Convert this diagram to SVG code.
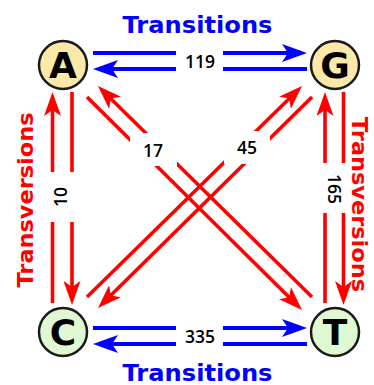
<svg xmlns="http://www.w3.org/2000/svg" width="374" height="385" viewBox="0 0 374 385">
<style>
.blue{stroke:#0000ff;stroke-width:4;fill:none}
.red{stroke:#ff0000;stroke-width:3.6;fill:none}
.ab{marker-end:url(#hb)}
.ar{marker-end:url(#hr)}
.nodeY{fill:#fce8a8;stroke:#1a1a1a;stroke-width:2.5}
.nodeG{fill:#e0f8d2;stroke:#1a1a1a;stroke-width:2.5}
.let{font-family:"DejaVu Sans",Verdana,sans-serif;font-weight:bold;font-size:36px;fill:#000;text-anchor:middle}
.num{font-family:"Open Sans","Liberation Sans",Arial,sans-serif;font-weight:600;font-size:17.5px;fill:#000;text-anchor:middle}
.tb{font-family:"DejaVu Sans",Verdana,sans-serif;font-weight:bold;font-size:23px;fill:#0000ff;text-anchor:middle}
.tr{font-family:"DejaVu Sans",Verdana,sans-serif;font-weight:bold;font-size:22px;fill:#ff0000;text-anchor:middle}
.gap{fill:#fff}
</style>
<defs>
<marker id="hb" markerUnits="userSpaceOnUse" viewBox="0 0 25 18" markerWidth="25" markerHeight="18" refX="15" refY="9" orient="auto">
<path d="M25,9 L0,0 L6,9 L0,18 Z" fill="#0000ff"/>
</marker>
<marker id="hr" markerUnits="userSpaceOnUse" viewBox="0 0 24 17" markerWidth="24" markerHeight="17" refX="14" refY="8.5" orient="auto">
<path d="M24,8.5 L0,0 L6,8.5 L0,17 Z" fill="#ff0000"/>
</marker>
</defs>

<g id="connectors">
<line class="blue ab" x1="93" y1="53" x2="297" y2="53"/>
<line class="blue ab" x1="307" y1="69" x2="103" y2="69"/>
<line class="blue ab" x1="93" y1="328" x2="297" y2="328"/>
<line class="blue ab" x1="307" y1="344" x2="103" y2="344"/>
<line class="red ar" x1="52.5" y1="303" x2="52.5" y2="102"/>
<line class="red ar" x1="72" y1="92" x2="72" y2="295"/>
<line class="red ar" x1="325" y1="303" x2="325" y2="102"/>
<line class="red ar" x1="343.5" y1="92" x2="343.5" y2="295"/>
<line class="red ar" x1="87" y1="97" x2="294.9" y2="303"/>
<line class="red ar" x1="312" y1="297" x2="105.1" y2="93"/>
<line class="red ar" x1="87" y1="297" x2="294.9" y2="93"/>
<line class="red ar" x1="312" y1="97" x2="105.1" y2="301"/>
</g>

<g id="labels">
<rect class="gap" x="176" y="45" width="47" height="32"/>
<text class="num" x="200" y="68">119</text>
<rect class="gap" x="176" y="320" width="47" height="32"/>
<text class="num" x="200" y="343">335</text>
<rect class="gap" x="45" y="172" width="34" height="50"/>
<text class="num" transform="translate(66.5,197) rotate(-90)">10</text>
<rect class="gap" x="318" y="163" width="34" height="50"/>
<text class="num" transform="translate(328,189) rotate(90)">165</text>
<rect class="gap" x="130" y="133" width="47" height="33"/>
<text class="num" x="153" y="157">17</text>
<rect class="gap" x="224" y="131" width="46" height="33"/>
<text class="num" x="247" y="154">45</text>
</g>

<g id="titles">
<text class="tb" x="197.5" y="33" textLength="150" lengthAdjust="spacingAndGlyphs">Transitions</text>
<text class="tb" x="197.5" y="381" textLength="150" lengthAdjust="spacingAndGlyphs">Transitions</text>
<text class="tr" transform="translate(33,200) rotate(-90)" textLength="175" lengthAdjust="spacingAndGlyphs">Transversions</text>
<text class="tr" transform="translate(352,204.5) rotate(90)" textLength="175" lengthAdjust="spacingAndGlyphs">Transversions</text>
</g>

<g id="node-A"><circle class="nodeY" cx="63" cy="65" r="24"/><text class="let" x="63" y="77.5">A</text></g>
<g id="node-G"><circle class="nodeY" cx="335" cy="65" r="24"/><text class="let" x="335" y="77.5">G</text></g>
<g id="node-C"><circle class="nodeG" cx="63" cy="332" r="24"/><text class="let" x="63" y="344.5">C</text></g>
<g id="node-T"><circle class="nodeG" cx="335" cy="332" r="24"/><text class="let" x="335" y="344.5">T</text></g>
</svg>
